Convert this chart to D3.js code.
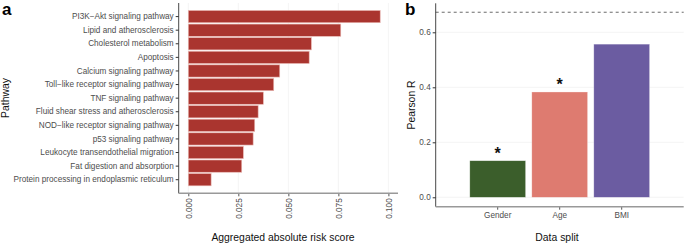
<!DOCTYPE html>
<html>
<head>
<meta charset="utf-8">
<script src="https://cdn.jsdelivr.net/npm/d3@7"></script>
<style>
  body { margin: 0; background: #fff; }
  svg { display: block; font-family: "Liberation Sans", Arial, sans-serif; }
</style>
</head>
<body>
<svg id="chart" width="685" height="244"></svg>
<script>
var width = 685
var height = 244

// panel a
var pathways = ["PI3K\u2212Akt signaling pathway", "Lipid and atherosclerosis", "Cholesterol metabolism",
  "Apoptosis", "Calcium signaling pathway", "Toll\u2212like receptor signaling pathway", "TNF signaling pathway",
  "Fluid shear stress and atherosclerosis", "NOD\u2212like receptor signaling pathway", "p53 signaling pathway",
  "Leukocyte transendothelial migration", "Fat digestion and absorption", "Protein processing in endoplasmic reticulum"]
var riskScores = [0.0959, 0.0762, 0.0615, 0.0604, 0.0457, 0.0427, 0.0375, 0.0349, 0.0332, 0.0324, 0.0275, 0.0267, 0.0114]
var riskTicks = [0, 0.025, 0.05, 0.075, 0.1]

// panel b
var splits = ["Gender", "Age", "BMI"]
var pearsonR = [0.133, 0.383, 0.557]
var significant = [true, true, false]
var splitColors = ["#3b5e2b", "#de7b70", "#6b5ca1"]
var refLine = 0.673
var rTicks = [0, 0.2, 0.4, 0.6]

var svg = d3.select("#chart")
var textCol = "#4d4d4d"
var tickSize = "8.2px"
var titleSize = "10.4px"

// ---------- panel a ----------
var xA = d3.scaleLinear().domain([-0.0048, 0.1048]).range([178.7, 398])
var yA = d3.scaleBand().domain(pathways).range([3, 193.3]).paddingInner(0.1).paddingOuter(0.55)

var gA = svg.append("g")

gA.selectAll(".grid")
    .data(riskTicks)
    .enter()
    .append("line")
    .attr("x1", d => xA(d)).attr("x2", d => xA(d))
    .attr("y1", 3).attr("y2", 193.3)
    .attr("stroke", "#ececec")
    .attr("stroke-width", 0.6)

gA.selectAll(".bar")
    .data(pathways)
    .enter()
    .append("rect")
    .attr("x", xA(0))
    .attr("y", d => yA(d))
    .attr("width", (d, i) => xA(riskScores[i]) - xA(0))
    .attr("height", yA.bandwidth())
    .attr("fill", "#aa352f")
    .attr("stroke", "#e9b8b3")
    .attr("stroke-width", 0.6)

var yAxisA = gA.append("g")
    .attr("transform", "translate(178.7,0)")
    .call(d3.axisLeft(yA).tickSize(3).tickPadding(2))
yAxisA.select(".domain").remove()
yAxisA.selectAll("line").attr("stroke", "#333")
yAxisA.selectAll("text")
    .attr("fill", textCol)
    .style("font-size", tickSize)

gA.append("line")
    .attr("x1", 178.7).attr("x2", 178.7).attr("y1", 3).attr("y2", 193.3)
    .attr("stroke", "#333").attr("stroke-width", 0.9)

var xAxisA = gA.append("g")
    .attr("transform", "translate(0,193.3)")
    .call(d3.axisBottom(xA).tickValues(riskTicks).tickFormat(d3.format(".3f")).tickSize(3))
xAxisA.select(".domain").remove()
xAxisA.selectAll("line").attr("stroke", "#555")
xAxisA.selectAll("text")
    .attr("fill", textCol)
    .style("font-size", tickSize)
    .attr("transform", "rotate(-90)")
    .attr("text-anchor", "end")
    .attr("x", -5)
    .attr("y", 0)
    .attr("dy", "0.35em")

gA.append("line")
    .attr("x1", 178.7).attr("x2", 398).attr("y1", 193.3).attr("y2", 193.3)
    .attr("stroke", "#999").attr("stroke-width", 1.4)

gA.append("text")
    .attr("x", 283).attr("y", 241)
    .attr("text-anchor", "middle")
    .attr("fill", "#111")
    .style("font-size", titleSize)
    .text("Aggregated absolute risk score")

gA.append("text")
    .attr("transform", "translate(9,98) rotate(-90)")
    .attr("text-anchor", "middle")
    .attr("fill", "#111")
    .style("font-size", titleSize)
    .text("Pathway")

gA.append("text")
    .attr("x", 2).attr("y", 15)
    .style("font-size", "17px")
    .style("font-weight", "bold")
    .text("a")

// ---------- panel b ----------
var xB = d3.scaleBand().domain(splits).range([435.7, 683.7]).paddingInner(0.1).paddingOuter(0.55)
var yB = d3.scaleLinear().domain([-0.0342, 0.7055]).range([206.7, 3.3])

var gB = svg.append("g")

gB.selectAll(".grid")
    .data(rTicks)
    .enter()
    .append("line")
    .attr("x1", 435.7).attr("x2", 683.7)
    .attr("y1", d => yB(d)).attr("y2", d => yB(d))
    .attr("stroke", "#ececec")
    .attr("stroke-width", 0.6)

gB.selectAll(".bar")
    .data(splits)
    .enter()
    .append("rect")
    .attr("x", d => xB(d))
    .attr("y", (d, i) => yB(pearsonR[i]))
    .attr("width", xB.bandwidth())
    .attr("height", (d, i) => yB(0) - yB(pearsonR[i]))
    .attr("fill", (d, i) => splitColors[i])
    .attr("stroke", "#ffffff")
    .attr("stroke-opacity", 0.5)
    .attr("stroke-width", 0.6)

gB.selectAll(".star")
    .data(splits.filter((d, i) => significant[i]))
    .enter()
    .append("text")
    .attr("x", d => xB(d) + xB.bandwidth() / 2)
    .attr("y", d => yB(pearsonR[splits.indexOf(d)]) - 2)
    .attr("text-anchor", "middle")
    .style("font-size", "16px")
    .style("font-weight", "bold")
    .attr("fill", "#111")
    .text("*")

gB.append("line")
    .attr("x1", 435.7).attr("x2", 683.7)
    .attr("y1", yB(refLine)).attr("y2", yB(refLine))
    .attr("stroke", "#444")
    .attr("stroke-width", 0.8)
    .attr("stroke-dasharray", "3,3")

var yAxisB = gB.append("g")
    .attr("transform", "translate(435.7,0)")
    .call(d3.axisLeft(yB).tickValues(rTicks).tickFormat(d3.format(".1f")).tickSize(3).tickPadding(2))
yAxisB.select(".domain").remove()
yAxisB.selectAll("line").attr("stroke", "#333")
yAxisB.selectAll("text")
    .attr("fill", textCol)
    .style("font-size", tickSize)

gB.append("line")
    .attr("x1", 435.7).attr("x2", 435.7).attr("y1", 3.3).attr("y2", 206.7)
    .attr("stroke", "#333").attr("stroke-width", 0.9)

var xAxisB = gB.append("g")
    .attr("transform", "translate(0,206.7)")
    .call(d3.axisBottom(xB).tickSize(3).tickPadding(2))
xAxisB.select(".domain").remove()
xAxisB.selectAll("line").attr("stroke", "#555")
xAxisB.selectAll("text")
    .attr("fill", textCol)
    .style("font-size", tickSize)

gB.append("line")
    .attr("x1", 435.7).attr("x2", 683.7).attr("y1", 206.7).attr("y2", 206.7)
    .attr("stroke", "#999").attr("stroke-width", 1.4)

gB.append("text")
    .attr("x", 557).attr("y", 241)
    .attr("text-anchor", "middle")
    .attr("fill", "#111")
    .style("font-size", titleSize)
    .text("Data split")

gB.append("text")
    .attr("transform", "translate(415,105) rotate(-90)")
    .attr("text-anchor", "middle")
    .attr("fill", "#111")
    .style("font-size", titleSize)
    .text("Pearson R")

gB.append("text")
    .attr("x", 405).attr("y", 15)
    .style("font-size", "17px")
    .style("font-weight", "bold")
    .text("b")
</script>
</body>
</html>
